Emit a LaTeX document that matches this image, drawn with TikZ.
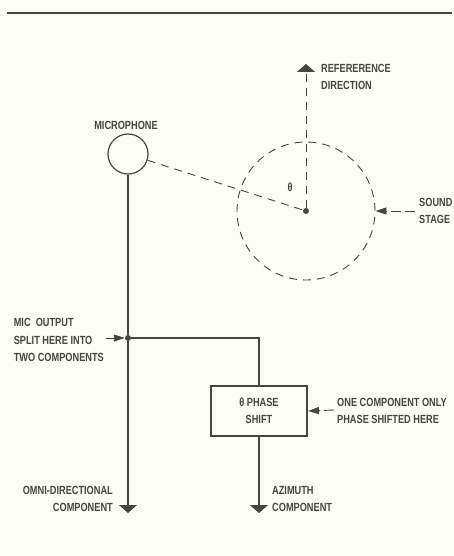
\documentclass[tikz,border=0pt]{standalone}
\usepackage{fontspec}
\setmainfont{Liberation Sans}[FakeStretch=0.78,UprightFont=* Bold]
\usetikzlibrary{arrows.meta}
\definecolor{ink}{HTML}{43473E}
\definecolor{paper}{HTML}{FDFDF8}
\begin{document}
\begin{tikzpicture}[x=1pt,y=-1pt,
  ink/.style={draw=ink,line width=1.2pt},
  dsh/.style={draw=ink,line width=0.9pt,dash pattern=on 8pt off 6pt},
  lbl/.style={text=ink,font=\fontsize{11.8}{17.5}\selectfont,inner sep=0pt},
  tip/.style={-{Triangle[width=18pt,length=8pt]}},
  ptr/.style={dsh,dash pattern=on 10pt off 4pt,-{Triangle[width=7pt,length=11pt]}},
  dot/.style={circle,fill=ink,inner sep=0pt,minimum size=6pt}]
\fill[paper] (0,0) rectangle (454,556);
\useasboundingbox (0,0) rectangle (454,556);
% top rule
\coordinate (r1) at (7,13);
\coordinate (r2) at (452,13);
\draw[draw=ink,line width=1.3pt] (r1) -- (r2);
% microphone
\node[ink,circle,minimum size=40pt,inner sep=0pt] (mic) at (128,154) {};
\node[lbl] (micl) at (126,125) {MICROPHONE};
% sound stage
\node[dsh,circle,minimum size=138pt,inner sep=0pt] (stage) at (306,211) {};
\node[dot] (ctr) at (306,211) {};
\coordinate (ref) at (306,64);
\draw[dsh,tip] (ctr) -- (ref);
\node[lbl,anchor=north west,align=left] (refl) at (321,64) {REFERERENCE\\DIRECTION};
\draw[dsh] (mic) -- (ctr);
\node[lbl] (theta) at (290,187) {θ};
\node[lbl,anchor=west,align=left] (sndl) at (419,211) {SOUND\\STAGE};
\coordinate (sndp) at (415,211);
\draw[ptr] (sndp) -- (stage.east);
% signal path
\node[dot] (jn) at (128,338) {};
\coordinate (out1) at (128,513);
\draw[ink] (mic.south) -- (jn);
\draw[ink,tip] (jn) -- (out1);
\node[ink,line width=2pt,minimum width=96pt,minimum height=50pt,inner sep=0pt,
      lbl,align=center] (box) at (259,411) {θ PHASE\\SHIFT};
\draw[ink] (jn) -| (box.north);
\coordinate (out2) at (259,513);
\draw[ink,tip] (box.south) -- (out2);
% labels
\node[lbl,anchor=east,align=left] (splitl) at (104,340) {MIC\ \ OUTPUT\\SPLIT HERE INTO\\TWO COMPONENTS};
\coordinate (splitp) at (106,338);
\draw[ptr] (splitp) -- (jn.west);
\node[lbl,anchor=west,align=left] (onel) at (337,411) {ONE COMPONENT ONLY\\PHASE SHIFTED HERE};
\coordinate (onep) at (334,410);
\draw[ptr] (onep) -- (box.east);
\node[lbl,anchor=east,align=right] (omni) at (113,499) {OMNI-DIRECTIONAL\\COMPONENT};
\node[lbl,anchor=west,align=left] (azl) at (272,499) {AZIMUTH\\COMPONENT};
\end{tikzpicture}
\end{document}
